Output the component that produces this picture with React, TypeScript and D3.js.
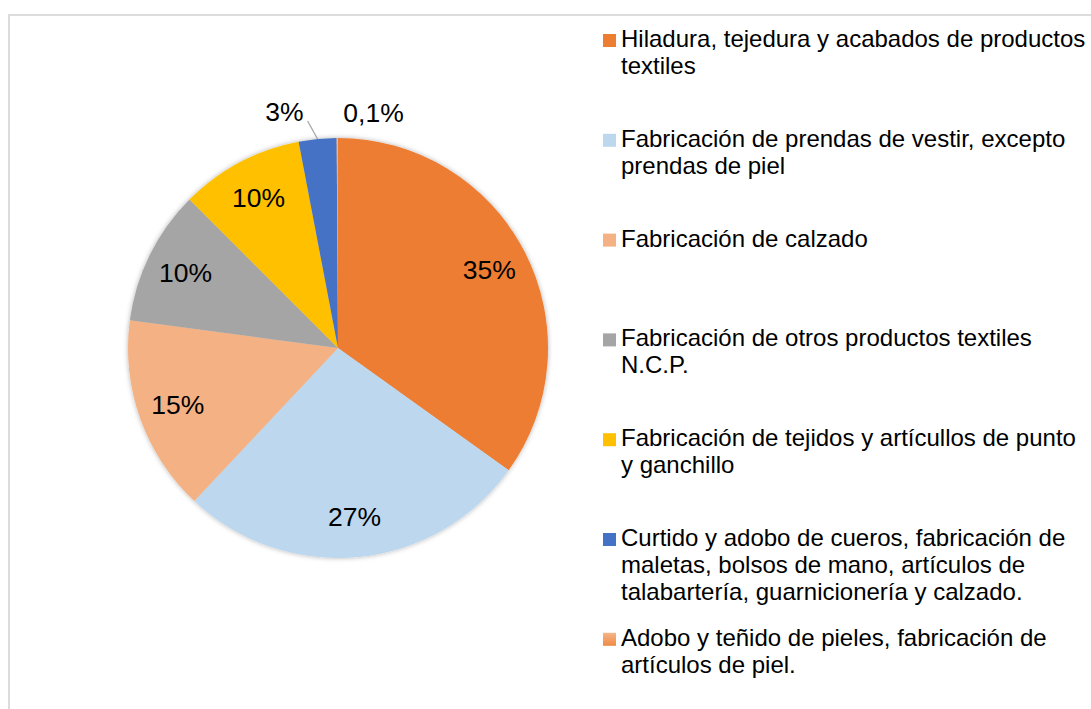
import React from "react";
import * as d3 from "d3";

const categories = [
  "Hiladura, tejedura y acabados de productos\ntextiles",
  "Fabricación de prendas de vestir, excepto\nprendas de piel",
  "Fabricación de calzado",
  "Fabricación de otros productos textiles\nN.C.P.",
  "Fabricación de tejidos y artícullos de punto\ny ganchillo",
  "Curtido y adobo de cueros, fabricación de\nmaletas, bolsos de mano, artículos de\ntalabartería, guarnicionería y calzado.",
  "Adobo y teñido de pieles, fabricación de\nartículos de piel.",
];
const values = [34.9, 27.1, 15.1, 10.4, 9.5, 2.9, 0.1];
const colors = ["#ED7D31", "#BDD7EE", "#F4B183", "#A5A5A5", "#FFC000", "#4472C4", "url(#gradLast)"];

const W = 1091;
const H = 709;
const cx = 338;
const cy = 348;
const R = 210;
const labelR = 170;

function fmt(v: number) {
  if (v < 1) return v.toFixed(1).replace(".", ",") + "%";
  return Math.round(v) + "%";
}

export default function App() {
  const pie = d3.pie<number>().sort(null).value((d) => d);
  const arcs = pie(values);
  const arcGen = d3.arc<d3.PieArcDatum<number>>().innerRadius(0).outerRadius(R);
  const labelArc = d3.arc<d3.PieArcDatum<number>>().innerRadius(labelR).outerRadius(labelR);

  const legendX = 603;
  const legendY0 = 47;
  const legendStep = 99.8;
  const lineH = 27;

  return (
    <svg
      width={W}
      height={H}
      style={{ position: "absolute", left: 0, top: 0, fontFamily: "Liberation Sans, Arial, sans-serif" }}
    >
      <defs>
        <linearGradient id="gradLast" x1="0" y1="0" x2="0" y2="1">
          <stop offset="0" stopColor="#F6B488" />
          <stop offset="1" stopColor="#EE8A45" />
        </linearGradient>
        <filter id="shadow" x="-20%" y="-20%" width="140%" height="140%">
          <feDropShadow dx="0" dy="0" stdDeviation="2.5" floodColor="#000" floodOpacity="0.3" />
        </filter>
      </defs>
      <rect x={0} y={0} width={W} height={H} fill="#fff" />
      <rect x={9} y={15} width={W + 20} height={H + 20} fill="none" stroke="#D9D9D9" strokeWidth={1.8} />
      <g transform={`translate(${cx},${cy})`}>
        <g filter="url(#shadow)">
          {arcs.map((a, i) => (
            <path key={i} d={arcGen(a) || ""} fill={colors[i]} />
          ))}
        </g>
        {arcs.map((a, i) => {
          const v = values[i];
          if (v >= 5) {
            const [x, y] = labelArc.centroid(a);
            return (
              <text key={"l" + i} x={x} y={y + 9} textAnchor="middle" fontSize={26.5} fill="#000">
                {fmt(v)}
              </text>
            );
          }
          const mid = (a.startAngle + a.endAngle) / 2;
          const sx = R * Math.sin(mid);
          const sy = -R * Math.cos(mid);
          if (v >= 1) {
            const ex = sx - 10;
            const ey = sy - 18;
            return (
              <g key={"l" + i}>
                <line x1={sx} y1={sy} x2={ex} y2={ey} stroke="#A6A6A6" strokeWidth={1.3} />
                <text x={ex - 4} y={ey} textAnchor="end" fontSize={26.5} fill="#000">
                  {fmt(v)}
                </text>
              </g>
            );
          }
          return (
            <text key={"l" + i} x={sx + 6} y={sy - 16} textAnchor="start" fontSize={26.5} fill="#000">
              {fmt(v)}
            </text>
          );
        })}
      </g>
      <g>
        {categories.map((c, i) => {
          const by = legendY0 + i * legendStep;
          const lines = c.split("\n");
          return (
            <g key={"lg" + i}>
              <rect x={legendX} y={by - 13} width={13} height={13} fill={colors[i]} />
              <text x={legendX + 18} y={by} fontSize={24} fill="#000">
                {lines.map((ln, j) => (
                  <tspan key={j} x={legendX + 18} y={by + j * lineH}>
                    {ln}
                  </tspan>
                ))}
              </text>
            </g>
          );
        })}
      </g>
    </svg>
  );
}
